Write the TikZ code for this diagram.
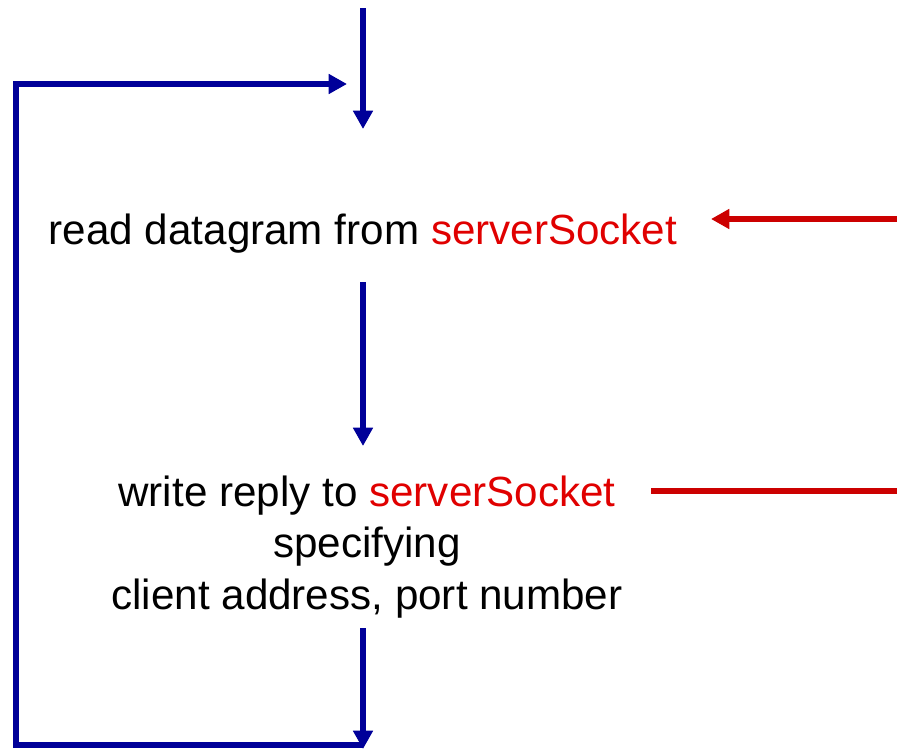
\documentclass[tikz,border=0pt]{standalone}
\usepackage{fontspec}
\setmainfont{Liberation Sans}
\usepackage{xcolor}
\usepackage{tikz}
\usetikzlibrary{arrows.meta}
\usetikzlibrary{positioning}
\definecolor{loopblue}{RGB}{0,0,153}
\definecolor{sockred}{RGB}{204,0,0}
\definecolor{textred}{RGB}{224,0,0}
\tikzset{>={Triangle[length=13pt,width=13.5pt]}}
\tikzset{flow/.style = {->, draw = loopblue, line width = 4.3pt}}
\tikzset{sock/.style = {draw = sockred, line width = 3.6pt}}
\tikzset{step text/.style = {draw = none, inner sep = 0, align = center, font = \fontsize{30}{36.5}\selectfont}}
\newcommand{\sockname}{\textcolor{textred}{serverSocket}}

\begin{document}
\begin{tikzpicture}[x=0.025cm, y=-0.025cm]
\useasboundingbox (0,0) rectangle (897,750);
\node [step text] (read) at (363, 234) {read datagram from \sockname};
\node [step text] (write) at (367, 547) {write reply to \sockname\\specifying\\client address, port number};
% loop corners and free ends
\coordinate (in) at (363, 8);
\coordinate (top) at (363, 129);
\coordinate (mid1) at (363, 282);
\coordinate (mid2) at (363, 446);
\coordinate (out) at (363, 628);
\coordinate (bot) at (363, 749);
\coordinate (br) at (363, 745);
\coordinate (bl) at (16, 745);
\coordinate (tl) at (16, 84);
\coordinate (back) at (347, 84);
\coordinate (rin) at (897, 219);
\coordinate (rend) at (711, 219);
\coordinate (rout) at (651, 491);
\coordinate (rfar) at (897, 491);
\draw [flow] (in) to (top);
\draw [flow] (mid1) to (mid2);
\draw [flow] (out) to (bot);
\draw [flow, line join = miter] (br) -- (bl) -- (tl) -- (back);
\draw [sock, ->] (rin) to (rend);
\draw [sock] (rout) to (rfar);
\end{tikzpicture}
\end{document}
